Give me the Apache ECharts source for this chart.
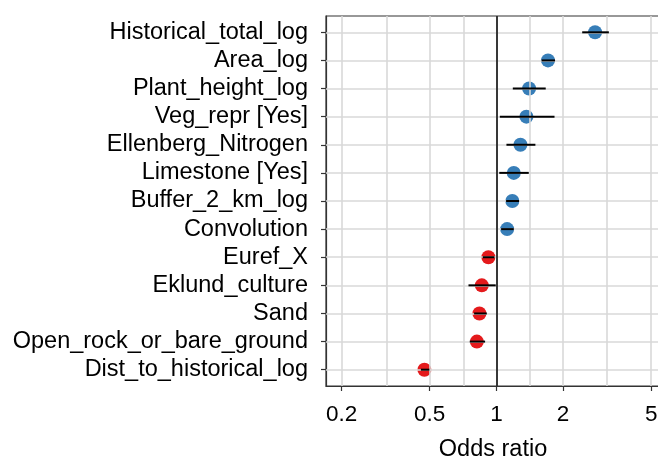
<!DOCTYPE html>
<html>
<head>
<meta charset="utf-8">
<script src="https://cdn.jsdelivr.net/npm/echarts@6/dist/echarts.min.js"></script>
<style>
html,body{margin:0;padding:0;background:#fff;}
#chart{width:658px;height:460px;}
</style>
</head>
<body>
<div id="chart"></div>
<script>
const categories = ['Historical_total_log','Area_log','Plant_height_log','Veg_repr [Yes]','Ellenberg_Nitrogen','Limestone [Yes]','Buffer_2_km_log','Convolution','Euref_X','Eklund_culture','Sand','Open_rock_or_bare_ground','Dist_to_historical_log'];
const oddsRatio = [2.79, 1.71, 1.405, 1.366, 1.284, 1.198, 1.18, 1.118, 0.92, 0.859, 0.838, 0.816, 0.473];
const ciLow =     [2.44, 1.60, 1.186, 1.036, 1.11, 1.03, 1.106, 1.05, 0.868, 0.748, 0.793, 0.758, 0.456];
const ciHigh =    [3.22, 1.84, 1.67, 1.83, 1.50, 1.40, 1.266, 1.198, 0.98, 0.993, 0.905, 0.889, 0.498];
const xTicks = [0.2, 0.5, 1, 2, 5];
const xTickLabels = ['0.2', '0.5', '1', '2', '5'];

// minor grid lines midway (in log space) between major ticks
const xGrid = [];
xTicks.forEach((t, i) => { xGrid.push(t); if (i < xTicks.length - 1) xGrid.push(Math.sqrt(t * xTicks[i + 1])); });
const yIdx = categories.map((c, i) => i);

const FONT = 'Liberation Sans, Arial, Helvetica, sans-serif';
const chart = echarts.init(document.getElementById('chart'), null, {renderer: 'canvas'});

const gridLines = [];
xGrid.forEach(v => gridLines.push({xAxis: v}));
yIdx.forEach(v => gridLines.push({yAxis: v}));

const option = {
  animation: false,
  backgroundColor: '#ffffff',
  grid: {left: 326, right: -2, top: 16, bottom: 74, containLabel: false, outerBoundsMode: 'none',
    show: true, borderColor: '#333333', borderWidth: 1.2, backgroundColor: 'transparent'},
  xAxis: {
    type: 'log', logBase: 10, min: 0.17, max: 5.48,
    name: 'Odds ratio', nameLocation: 'middle', nameGap: 52,
    nameTextStyle: {fontFamily: FONT, fontSize: 23.5, color: '#000'},
    axisLine: {show: true, onZero: false, lineStyle: {color: '#333333', width: 1.2}},
    axisTick: {show: true, length: 5, customValues: xTicks, lineStyle: {color: '#333333', width: 1.2}},
    axisLabel: {show: true, customValues: xTicks, margin: 17, fontFamily: FONT, fontSize: 22.5, color: '#000',
      formatter: v => { const k = xTicks.findIndex(t => Math.abs(t - v) < 1e-6); return k >= 0 ? xTickLabels[k] : ''; }},
    splitLine: {show: false}, minorTick: {show: false}, minorSplitLine: {show: false}
  },
  yAxis: {
    type: 'value', min: -0.58, max: 12.58, inverse: true,
    axisLine: {show: true, onZero: false, lineStyle: {color: '#333333', width: 1.2}},
    axisTick: {show: true, length: 5, customValues: yIdx, lineStyle: {color: '#333333', width: 1.2}},
    axisLabel: {show: true, customValues: yIdx, margin: 18, fontFamily: FONT, fontSize: 23.5, color: '#000',
      formatter: v => categories[Math.round(v)] || ''},
    splitLine: {show: false}
  },
  series: [
    {
      type: 'scatter', data: [], z: 1, silent: true,
      markLine: {silent: true, symbol: 'none', label: {show: false}, animation: false,
        lineStyle: {color: '#d9d9d9', width: 1.6, type: 'solid'}, emphasis: {disabled: true},
        data: gridLines}
    },
    {
      type: 'scatter', data: [], z: 2, silent: true,
      markLine: {silent: true, symbol: 'none', label: {show: false}, animation: false,
        lineStyle: {color: '#000000', width: 1.5, type: 'solid'}, emphasis: {disabled: true},
        data: [{xAxis: 1}]}
    },
    {
      type: 'scatter', z: 3, symbolSize: 14,
      data: oddsRatio.map((v, i) => [v, i]),
      itemStyle: {color: p => p.value[0] > 1 ? '#377EB8' : '#E41A1C', opacity: 1},
      emphasis: {disabled: true}
    },
    {
      type: 'custom', z: 10, silent: true,
      data: ciLow.map((lo, i) => [lo, ciHigh[i], i]),
      encode: {x: [0, 1], y: 2},
      renderItem: (params, api) => {
        const a = api.coord([api.value(0), api.value(2)]);
        const b = api.coord([api.value(1), api.value(2)]);
        return {type: 'rect', z2: 100,
          shape: {x: a[0], y: a[1] - 1, width: b[0] - a[0], height: 2},
          style: {fill: '#000000', opacity: 1}};
      }
    }
  ]
};
chart.setOption(option);
</script>
</body>
</html>
